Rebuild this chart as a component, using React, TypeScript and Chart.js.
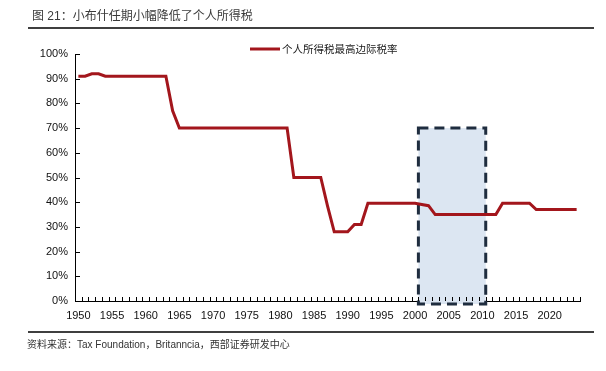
import { useEffect, useRef } from "react";
import { Chart, registerables } from "chart.js";

Chart.register(...registerables);

const years = [
  "1950","1951","1952","1953","1954","1955","1956","1957","1958","1959",
  "1960","1961","1962","1963","1964","1965","1966","1967","1968","1969",
  "1970","1971","1972","1973","1974","1975","1976","1977","1978","1979",
  "1980","1981","1982","1983","1984","1985","1986","1987","1988","1989",
  "1990","1991","1992","1993","1994","1995","1996","1997","1998","1999",
  "2000","2001","2002","2003","2004","2005","2006","2007","2008","2009",
  "2010","2011","2012","2013","2014","2015","2016","2017","2018","2019",
  "2020","2021","2022","2023","2024",
];

const topRate = [
  91, 91, 92, 92, 91, 91, 91, 91, 91, 91,
  91, 91, 91, 91, 77, 70, 70, 70, 70, 70,
  70, 70, 70, 70, 70, 70, 70, 70, 70, 70,
  70, 70, 50, 50, 50, 50, 50, 38.5, 28, 28,
  28, 31, 31, 39.6, 39.6, 39.6, 39.6, 39.6, 39.6, 39.6,
  39.6, 39.1, 38.6, 35, 35, 35, 35, 35, 35, 35,
  35, 35, 35, 39.6, 39.6, 39.6, 39.6, 39.6, 37, 37,
  37, 37, 37, 37, 37,
];

const xTickLabels = ["1950","1955","1960","1965","1970","1975","1980","1985","1990","1995","2000","2005","2010","2015","2020"];
const yTickValues = [0, 10, 20, 30, 40, 50, 60, 70, 80, 90, 100];

const highlightStart = "2001";
const highlightEnd = "2010";
const highlightTop = 70;

const titleText = "图 21：小布什任期小幅降低了个人所得税";
const legendText = "个人所得税最高边际税率";
const sourceText = "资料来源：Tax Foundation，Britanncia，西部证券研发中心";

const RED = "#a3161c";

const decorPlugin = {
  id: "decor",
  beforeDatasetsDraw(chart: any) {
    const { ctx, chartArea, scales } = chart;
    const x = scales.x;
    const y = scales.y;
    const n = years.length;
    const step = (chartArea.right - chartArea.left) / n;
    const i0 = years.indexOf(highlightStart);
    const i1 = years.indexOf(highlightEnd);
    const left = x.getPixelForValue(i0) - step / 2;
    const right = x.getPixelForValue(i1) + step / 2;
    const top = y.getPixelForValue(highlightTop);
    const bottom = y.getPixelForValue(0) + 3;
    ctx.save();
    ctx.fillStyle = "#dce6f2";
    ctx.fillRect(left, top, right - left, bottom - top);
    ctx.strokeStyle = "#1f2d3f";
    ctx.lineWidth = 3;
    ctx.setLineDash([10, 6]);
    ctx.strokeRect(left, top, right - left, bottom - top);
    ctx.restore();
  },
  afterDraw(chart: any) {
    const { ctx, chartArea, scales } = chart;
    const y = scales.y;
    const n = years.length;
    const step = (chartArea.right - chartArea.left) / n;
    ctx.save();
    // inward ticks on x axis
    ctx.strokeStyle = "#000";
    ctx.lineWidth = 1;
    ctx.beginPath();
    for (let i = 0; i <= n; i++) {
      const px = Math.round(chartArea.left + i * step) + 0.5;
      ctx.moveTo(px, chartArea.bottom);
      ctx.lineTo(px, chartArea.bottom - 4);
    }
    // inward ticks on y axis
    for (const v of yTickValues) {
      const py = Math.round(y.getPixelForValue(v)) + 0.5;
      ctx.moveTo(chartArea.left, py);
      ctx.lineTo(chartArea.left + 5, py);
    }
    ctx.stroke();

    // rules
    ctx.lineWidth = 1.5;
    ctx.strokeStyle = "#000";
    ctx.beginPath();
    ctx.moveTo(28, 28);
    ctx.lineTo(594, 28);
    ctx.moveTo(28, 332);
    ctx.lineTo(594, 332);
    ctx.stroke();

    // title
    ctx.fillStyle = "#3a3a3a";
    ctx.textBaseline = "middle";
    ctx.textAlign = "left";
    ctx.font = '12px "Liberation Sans", "Noto Sans CJK SC", sans-serif';
    ctx.fillText(titleText, 32, 17);

    // legend
    ctx.strokeStyle = RED;
    ctx.lineWidth = 3;
    ctx.beginPath();
    ctx.moveTo(250, 49);
    ctx.lineTo(280, 49);
    ctx.stroke();
    ctx.fillStyle = "#222";
    ctx.font = '10.5px "Noto Sans CJK SC", sans-serif';
    ctx.fillText(legendText, 282, 49);

    // source
    ctx.fillStyle = "#333";
    ctx.font = '10px "Liberation Sans", "Noto Sans CJK SC", sans-serif';
    ctx.fillText(sourceText, 27, 345);
    ctx.restore();
  },
};

export default function App() {
  const ref = useRef<HTMLCanvasElement | null>(null);
  useEffect(() => {
    if (!ref.current) return;
    const chart = new Chart(ref.current, {
      type: "line",
      data: {
        labels: years,
        datasets: [
          {
            label: legendText,
            data: topRate,
            borderColor: RED,
            backgroundColor: RED,
            borderWidth: 3,
            pointRadius: 0,
            tension: 0,
            fill: false,
          },
        ],
      },
      options: {
        animation: false,
        responsive: false,
        layout: { padding: { left: 30, right: 26, top: 54, bottom: 45 } },
        plugins: { legend: { display: false }, tooltip: { enabled: false } },
        scales: {
          x: {
            type: "category",
            offset: true,
            grid: { display: true, drawOnChartArea: false, drawTicks: false },
            border: { display: true, color: "#000", width: 1 },
            ticks: {
              autoSkip: false,
              maxRotation: 0,
              padding: 8,
              color: "#111",
              font: { family: '"Liberation Sans", Arial, sans-serif', size: 11 },
              callback: (_v: any, idx: number) => (xTickLabels.includes(years[idx]) ? years[idx] : ""),
            },
            afterFit: (s: any) => {
              s.height = 25;
            },
          },
          y: {
            min: 0,
            max: 100,
            grid: { display: true, drawOnChartArea: false, drawTicks: false },
            border: { display: true, color: "#000", width: 1 },
            afterBuildTicks: (s: any) => {
              s.ticks = yTickValues.map((v) => ({ value: v }));
            },
            ticks: {
              padding: 7,
              color: "#111",
              font: { family: '"Liberation Sans", Arial, sans-serif', size: 11 },
              callback: (v: any) => v + "%",
            },
            afterFit: (s: any) => {
              s.width = 45;
            },
          },
        },
      },
      plugins: [decorPlugin],
    });
    return () => chart.destroy();
  }, []);
  return (
    <div style={{ position: "fixed", left: 0, top: 0, width: 606, height: 371, background: "#fff" }}>
      <canvas ref={ref} width={606} height={371} style={{ display: "block" }} />
    </div>
  );
}
